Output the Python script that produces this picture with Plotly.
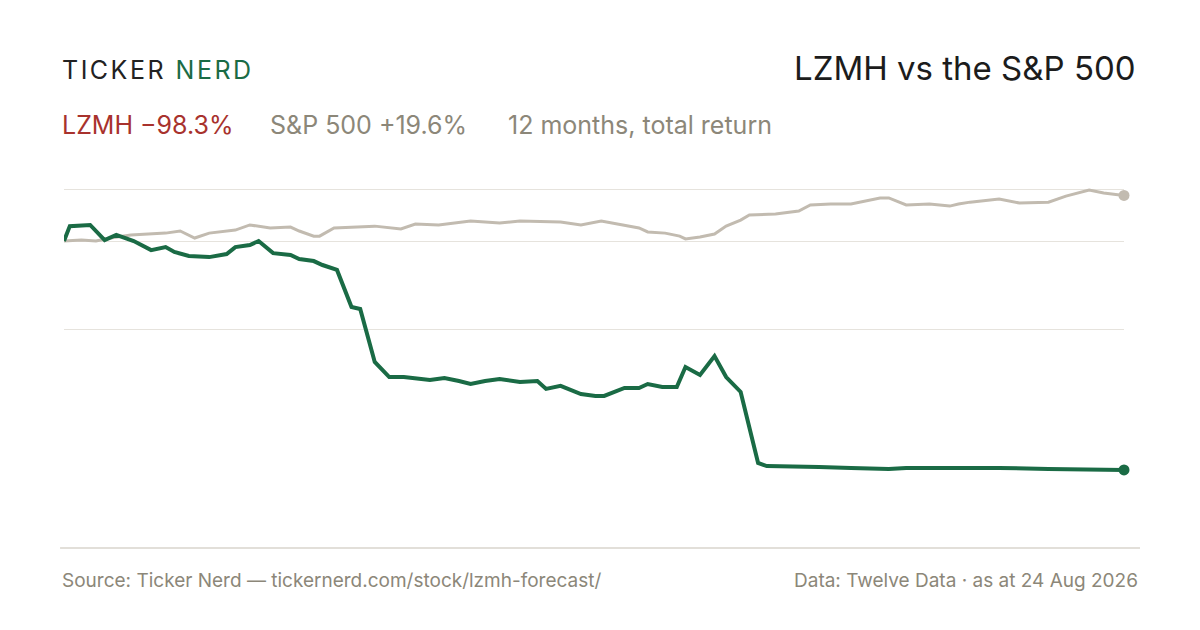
import plotly.graph_objects as go
import pandas as pd

# day offsets from start of the 12-month window, and cumulative total return in %
lzmh_days = [0, 2, 9, 14, 18, 24, 30, 35, 38, 43, 50, 56, 59, 64, 67, 72, 78, 81, 86, 89,
             94, 99, 102, 107, 112, 117, 126, 131, 136, 140, 145, 150, 157, 163, 166, 171, 178, 183, 186, 193,
             198, 201, 206, 211, 214, 219, 224, 228, 233, 239, 242, 248, 260, 271, 284, 290, 305, 322, 339, 365]
lzmh_ret = [0, 6.4, 6.9, 0.4, 2.6, 0, -3.9, -2.6, -4.7, -6.4, -6.9, -5.6, -2.6, -1.7, 0, -5.2, -6.0, -7.7, -8.6, -10.3,
            -12.4, -28.3, -29.2, -51.9, -58.4, -58.4, -59.7, -58.8, -60.1, -61.4, -60.1, -59.2, -60.5, -60.1, -63.5, -62.2, -65.7, -66.5, -66.5, -63.1,
            -63.1, -61.4, -62.7, -62.7, -54.1, -57.5, -49.4, -58.4, -64.8, -95.3, -96.6, -96.6, -97.0, -97.4, -97.9, -97.4, -97.4, -97.4, -97.9, -98.3]

spx_days = [0, 6, 11, 16, 23, 30, 35, 40, 45, 50, 59, 64, 71, 78, 81, 86, 88, 93, 100, 107,
            116, 121, 129, 140, 150, 157, 171, 178, 185, 191, 198, 201, 207, 212, 214, 219, 224, 228, 233, 236,
            245, 253, 257, 264, 271, 281, 284, 290, 298, 305, 308, 312, 319, 322, 329, 339, 345, 353, 358, 365]
spx_ret = [0, 0.4, 0, 1.3, 2.6, 3.0, 3.4, 4.3, 1.3, 3.4, 4.7, 6.9, 5.6, 6.0, 4.3, 2.1, 2.1, 5.6, 6.0, 6.4,
           5.2, 7.3, 6.9, 8.6, 7.7, 8.6, 8.2, 6.9, 8.6, 7.3, 5.6, 3.9, 3.4, 2.1, 0.9, 1.7, 3.0, 6.4, 9.0, 11.2,
           11.6, 12.9, 15.5, 15.9, 15.9, 18.5, 18.5, 15.5, 15.9, 15.0, 15.9, 16.7, 17.6, 18.0, 16.3, 16.7, 19.3, 21.9, 20.6, 19.6]

grid_vals = [22.3, 0, -37.8]

end = pd.Timestamp("2026-08-24")
start = end - pd.Timedelta(days=365)
lzmh_x = [start + pd.Timedelta(days=d) for d in lzmh_days]
spx_x = [start + pd.Timedelta(days=d) for d in spx_days]

GREEN = "#1a6b45"
GREY = "#c2bbb0"
MUTED = "#8c8779"
FONT = "Inter"

fig = go.Figure()
fig.add_trace(go.Scatter(x=spx_x, y=spx_ret, mode="lines", line=dict(color=GREY, width=3), cliponaxis=False))
fig.add_trace(go.Scatter(x=[spx_x[-1]], y=[spx_ret[-1]], mode="markers",
                         marker=dict(color=GREY, size=11), cliponaxis=False))
fig.add_trace(go.Scatter(x=lzmh_x, y=lzmh_ret, mode="lines", line=dict(color=GREEN, width=4), cliponaxis=False))
fig.add_trace(go.Scatter(x=[lzmh_x[-1]], y=[lzmh_ret[-1]], mode="markers",
                         marker=dict(color=GREEN, size=11), cliponaxis=False))

# page adds an 8px body margin, so the figure box is offset by 8px
fig.update_layout(
    width=1200, height=630, showlegend=False,
    paper_bgcolor="white", plot_bgcolor="white",
    margin=dict(l=56, r=84, t=162, b=90),
    font=dict(family=FONT, color="#222"),
    xaxis=dict(range=[start, end], showgrid=False, showticklabels=False, zeroline=False),
    yaxis=dict(range=[-131.8, 30.5], tickvals=grid_vals, showticklabels=False,
               gridcolor="#e6e3dd", gridwidth=1, zeroline=False),
)

fig.add_shape(type="line", xref="paper", yref="paper", x0=-0.0037, x1=1.0151, y0=0, y1=0,
              line=dict(color="#d8d4cc", width=1.5))

ann = [
    dict(x=60, y=70, text="<span style='letter-spacing:2.5px'>TICKER <span style='color:%s'>NERD</span></span>" % GREEN,
         size=25, color="#222", xanchor="left"),
    dict(x=1138, y=68, text="LZMH vs the S&P 500", size=33, color="#1c1c1c", xanchor="right"),
    dict(x=60, y=125, text="LZMH −98.3%", size=25, color="#a8322d", xanchor="left"),
    dict(x=268, y=125, text="S&P 500 +19.6%", size=25, color=MUTED, xanchor="left"),
    dict(x=506, y=125, text="12 months, total return", size=25, color=MUTED, xanchor="left"),
    dict(x=60, y=580, text="Source: Ticker Nerd — tickernerd.com/stock/lzmh-forecast/", size=19, color=MUTED, xanchor="left"),
    dict(x=1140, y=580, text="Data: Twelve Data · as at 24 Aug 2026", size=19, color=MUTED, xanchor="right"),
]
for a in ann:
    fig.add_annotation(xref="paper", yref="paper", x=(a["x"] - 64) / 1060,
                       y=(548 - a["y"]) / 378, text=a["text"], showarrow=False,
                       xanchor=a["xanchor"], yanchor="middle",
                       font=dict(size=a["size"], color=a["color"], family=FONT))

fig.write_html("out.html")
